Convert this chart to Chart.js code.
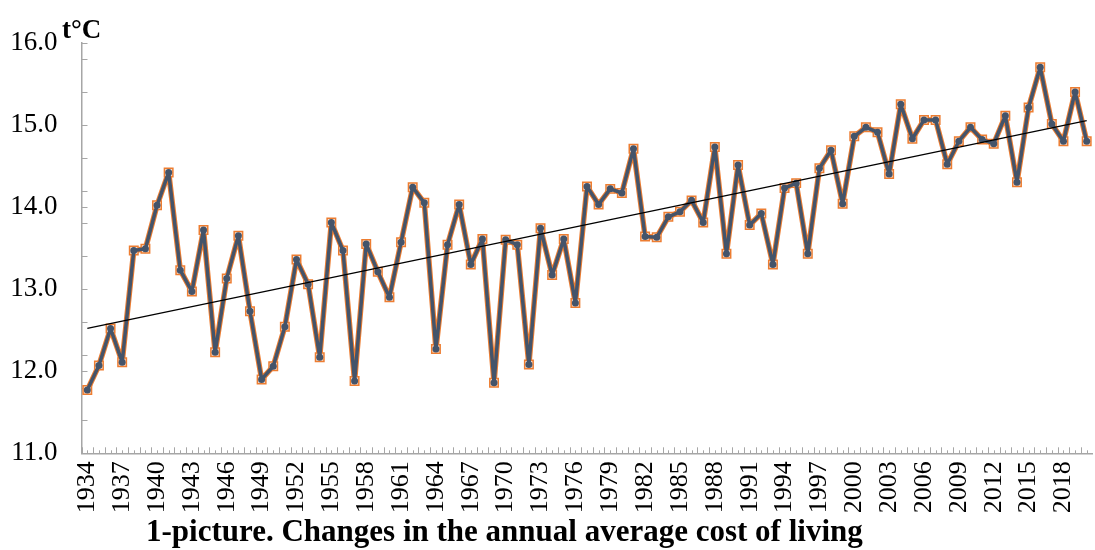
<!DOCTYPE html>
<html>
<head>
<meta charset="utf-8">
<script src="https://cdn.jsdelivr.net/npm/chart.js@4/dist/chart.umd.min.js"></script>
<style>
  html, body { margin: 0; padding: 0; background: #fff; overflow: hidden; }
  #wrap { position: relative; width: 1100px; height: 550px; }
</style>
</head>
<body>
<div id="wrap"><canvas id="tempChart"></canvas></div>
<script>
// years on the category axis
const years = ['1934','1935','1936','1937','1938','1939','1940','1941','1942','1943',
  '1944','1945','1946','1947','1948','1949','1950','1951','1952','1953',
  '1954','1955','1956','1957','1958','1959','1960','1961','1962','1963',
  '1964','1965','1966','1967','1968','1969','1970','1971','1972','1973',
  '1974','1975','1976','1977','1978','1979','1980','1981','1982','1983',
  '1984','1985','1986','1987','1988','1989','1990','1991','1992','1993',
  '1994','1995','1996','1997','1998','1999','2000','2001','2002','2003',
  '2004','2005','2006','2007','2008','2009','2010','2011','2012','2013',
  '2014','2015','2016','2017','2018','2019','2020'];

// annual mean temperature, t°C
const temps = [11.77, 12.07, 12.52, 12.11, 13.47, 13.49, 14.02, 14.42, 13.23, 12.97,
  13.72, 12.23, 13.13, 13.65, 12.73, 11.90, 12.06, 12.54, 13.36, 13.06,
  12.17, 13.81, 13.47, 11.88, 13.55, 13.21, 12.90, 13.57, 14.24, 14.05,
  12.27, 13.54, 14.03, 13.30, 13.61, 11.86, 13.60, 13.54, 12.08, 13.74,
  13.17, 13.61, 12.83, 14.25, 14.03, 14.22, 14.17, 14.71, 13.64, 13.63,
  13.88, 13.94, 14.08, 13.81, 14.73, 13.43, 14.51, 13.78, 13.92, 13.30,
  14.23, 14.29, 13.43, 14.47, 14.69, 14.04, 14.86, 14.97, 14.91, 14.40,
  15.25, 14.83, 15.06, 15.06, 14.52, 14.80, 14.97, 14.82, 14.77, 15.11,
  14.30, 15.21, 15.70, 15.01, 14.80, 15.40, 14.80];

// linear trend, read at the first and last year
const trendYears = ['1934', '2020'];
const trendValues = [12.52, 15.05];

// y axis: labelled ticks and the small tick marks
const yLabels = [11, 12, 13, 14, 15, 16];
const yMarks = [11.4, 11.8, 12, 12.2, 12.6, 13, 13.4, 13.8, 14, 14.2, 14.6, 15, 15.4, 15.8, 16];

const titleText = '1-picture. Changes in the annual average cost of living';
const unitText = 't\u00b0C';

const serif = "'Liberation Serif', 'Times New Roman', serif";
const axisGrey = '#a6a6a6';

// small inside tick marks + title and unit text
const extras = {
  id: 'extras',
  beforeDatasetsDraw(chart) {
    const ctx = chart.ctx;
    const x = chart.scales.x, y = chart.scales.y;
    const half = (x.getPixelForValue(1) - x.getPixelForValue(0)) / 2;
    ctx.save();
    ctx.strokeStyle = axisGrey;
    ctx.lineWidth = 1;
    const base = y.bottom;
    for (let i = 0; i < years.length; i++) {
      const c = x.getPixelForValue(i);
      ctx.beginPath();
      ctx.moveTo(Math.round(c - half) + 0.5, base);
      ctx.lineTo(Math.round(c - half) + 0.5, base - 6);
      ctx.moveTo(Math.round(c) + 0.5, base);
      ctx.lineTo(Math.round(c) + 0.5, base - 3);
      ctx.stroke();
    }
    yMarks.forEach(v => {
      const py = Math.round(y.getPixelForValue(v)) + 0.5;
      ctx.beginPath();
      ctx.moveTo(x.left, py);
      ctx.lineTo(x.left + 6, py);
      ctx.stroke();
    });
    ctx.restore();
  },
  afterDraw(chart) {
    const ctx = chart.ctx;
    ctx.save();
    ctx.fillStyle = '#000';
    ctx.textBaseline = 'alphabetic';
    ctx.textAlign = 'left';
    ctx.font = 'bold 27px ' + serif;
    ctx.fillText(unitText, 62, 38);
    ctx.font = 'bold 31px ' + serif;
    ctx.fillText(titleText, 146, 541);
    ctx.restore();
  }
};

new Chart(document.getElementById('tempChart').getContext('2d'), {
  type: 'line',
  data: {
    labels: years,
    datasets: [
      {
        label: 'trend',
        data: trendYears.map((yr, i) => ({ x: yr, y: trendValues[i] })),
        borderColor: '#000',
        borderWidth: 1.3,
        pointRadius: 0,
        fill: false,
        order: 0
      },
      {
        label: 't',
        data: temps,
        borderColor: '#44546A',
        backgroundColor: '#44546A',
        borderWidth: 3.5,
        borderJoinStyle: 'round',
        pointStyle: 'circle',
        pointRadius: 3.5,
        pointBorderWidth: 0,
        pointBackgroundColor: '#44546A',
        tension: 0,
        order: 1
      },
      {
        label: 't outline',
        data: temps,
        borderColor: '#ED7D31',
        borderWidth: 5.5,
        borderJoinStyle: 'round',
        pointStyle: 'rect',
        pointRadius: 6,
        pointBorderWidth: 1.5,
        pointBorderColor: '#ED7D31',
        pointBackgroundColor: '#fbe2d3',
        tension: 0,
        order: 2
      }
    ]
  },
  options: {
    responsive: true,
    maintainAspectRatio: false,
    animation: false,
    layout: { padding: { top: 42.7, left: 0, right: 0, bottom: 0 } },
    plugins: {
      legend: { display: false },
      tooltip: { enabled: false },
      title: { display: false }
    },
    scales: {
      x: {
        type: 'category',
        offset: true,
        grid: { display: false, drawTicks: false },
        border: { display: true, color: axisGrey, width: 1.5 },
        ticks: {
          autoSkip: false,
          maxRotation: 90,
          minRotation: 90,
          padding: 8,
          color: '#000',
          font: { family: serif, size: 26 },
          callback: function (val, idx) {
            return idx % 3 === 0 ? this.getLabelForValue(val) : '';
          }
        },
        afterFit: s => { s.height = 96.7; s.paddingLeft = 0; s.paddingRight = 0; }
      },
      y: {
        min: 11,
        max: 16,
        grid: { display: false, drawTicks: false },
        border: { display: true, color: axisGrey, width: 1.5 },
        afterBuildTicks: s => { s.ticks = yLabels.map(v => ({ value: v })); },
        ticks: {
          padding: 24,
          color: '#000',
          font: { family: serif, size: 27 },
          callback: v => Number(v).toFixed(1)
        },
        afterFit: s => { s.width = 81.5; s.paddingTop = 0; s.paddingBottom = 0; }
      }
    }
  },
  plugins: [extras]
});
</script>
</body>
</html>
